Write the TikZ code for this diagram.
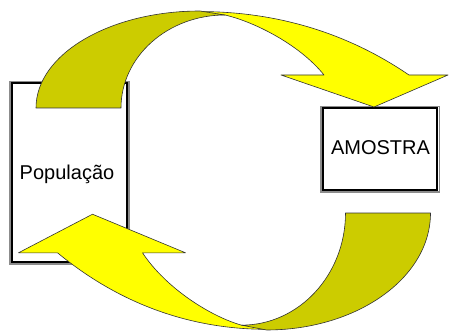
\documentclass[tikz,border=0pt]{standalone}
\usepackage{fontspec}
\setmainfont{Liberation Sans}
\definecolor{olive1}{HTML}{CCCC00}
\definecolor{yel1}{HTML}{FFFF00}
\tikzset{
  boxouter/.style={draw=black!45, line width=1.4pt, fill=white},
  boxinner/.style={draw=black, line width=2.2pt},
  backband/.style={fill=olive1, draw=black!80, line width=0.6pt, line join=round},
  frontband/.style={fill=yel1, draw=black!80, line width=0.6pt, line join=round},
  lbl/.style={font=\fontsize{20}{24}\selectfont, inner sep=0pt}
}
\newcommand{\curvedarrowshape}{%
  \path[frontband] (180,12) .. controls (290,7) and (365,45) .. (409,75)
     -- (448,75) -- (374,107) -- (281,75) -- (324,75)
     .. controls (300,45) and (255,22) .. (225,15) -- cycle;
  \path[backband] (36,108) .. controls (36,54) and (110,11) .. (200,11)
     -- (225,15) .. controls (167.6,15) and (121,56.7) .. (121,108) -- cycle;
}
\begin{document}
\begin{tikzpicture}[x=1pt,y=-1pt]
\useasboundingbox (0,0) rectangle (449,331);
% boxes
\draw[boxouter] (10,81.5) rectangle (129,264);
\draw[boxinner] (12.2,83.2) rectangle (127,262);
\draw[boxouter] (321,106.5) rectangle (439.5,191.8);
\draw[boxinner] (323.2,108.2) rectangle (437.3,189.8);
\node[lbl] (pop) at (67,174) {População};
\node[lbl] (amo) at (380.5,148) {AMOSTRA};
% arrows
\curvedarrowshape
\begin{scope}[shift={(466.5,343.25)}, xscale=-1, yscale=-1.206]
\curvedarrowshape
\end{scope}
\end{tikzpicture}
\end{document}
